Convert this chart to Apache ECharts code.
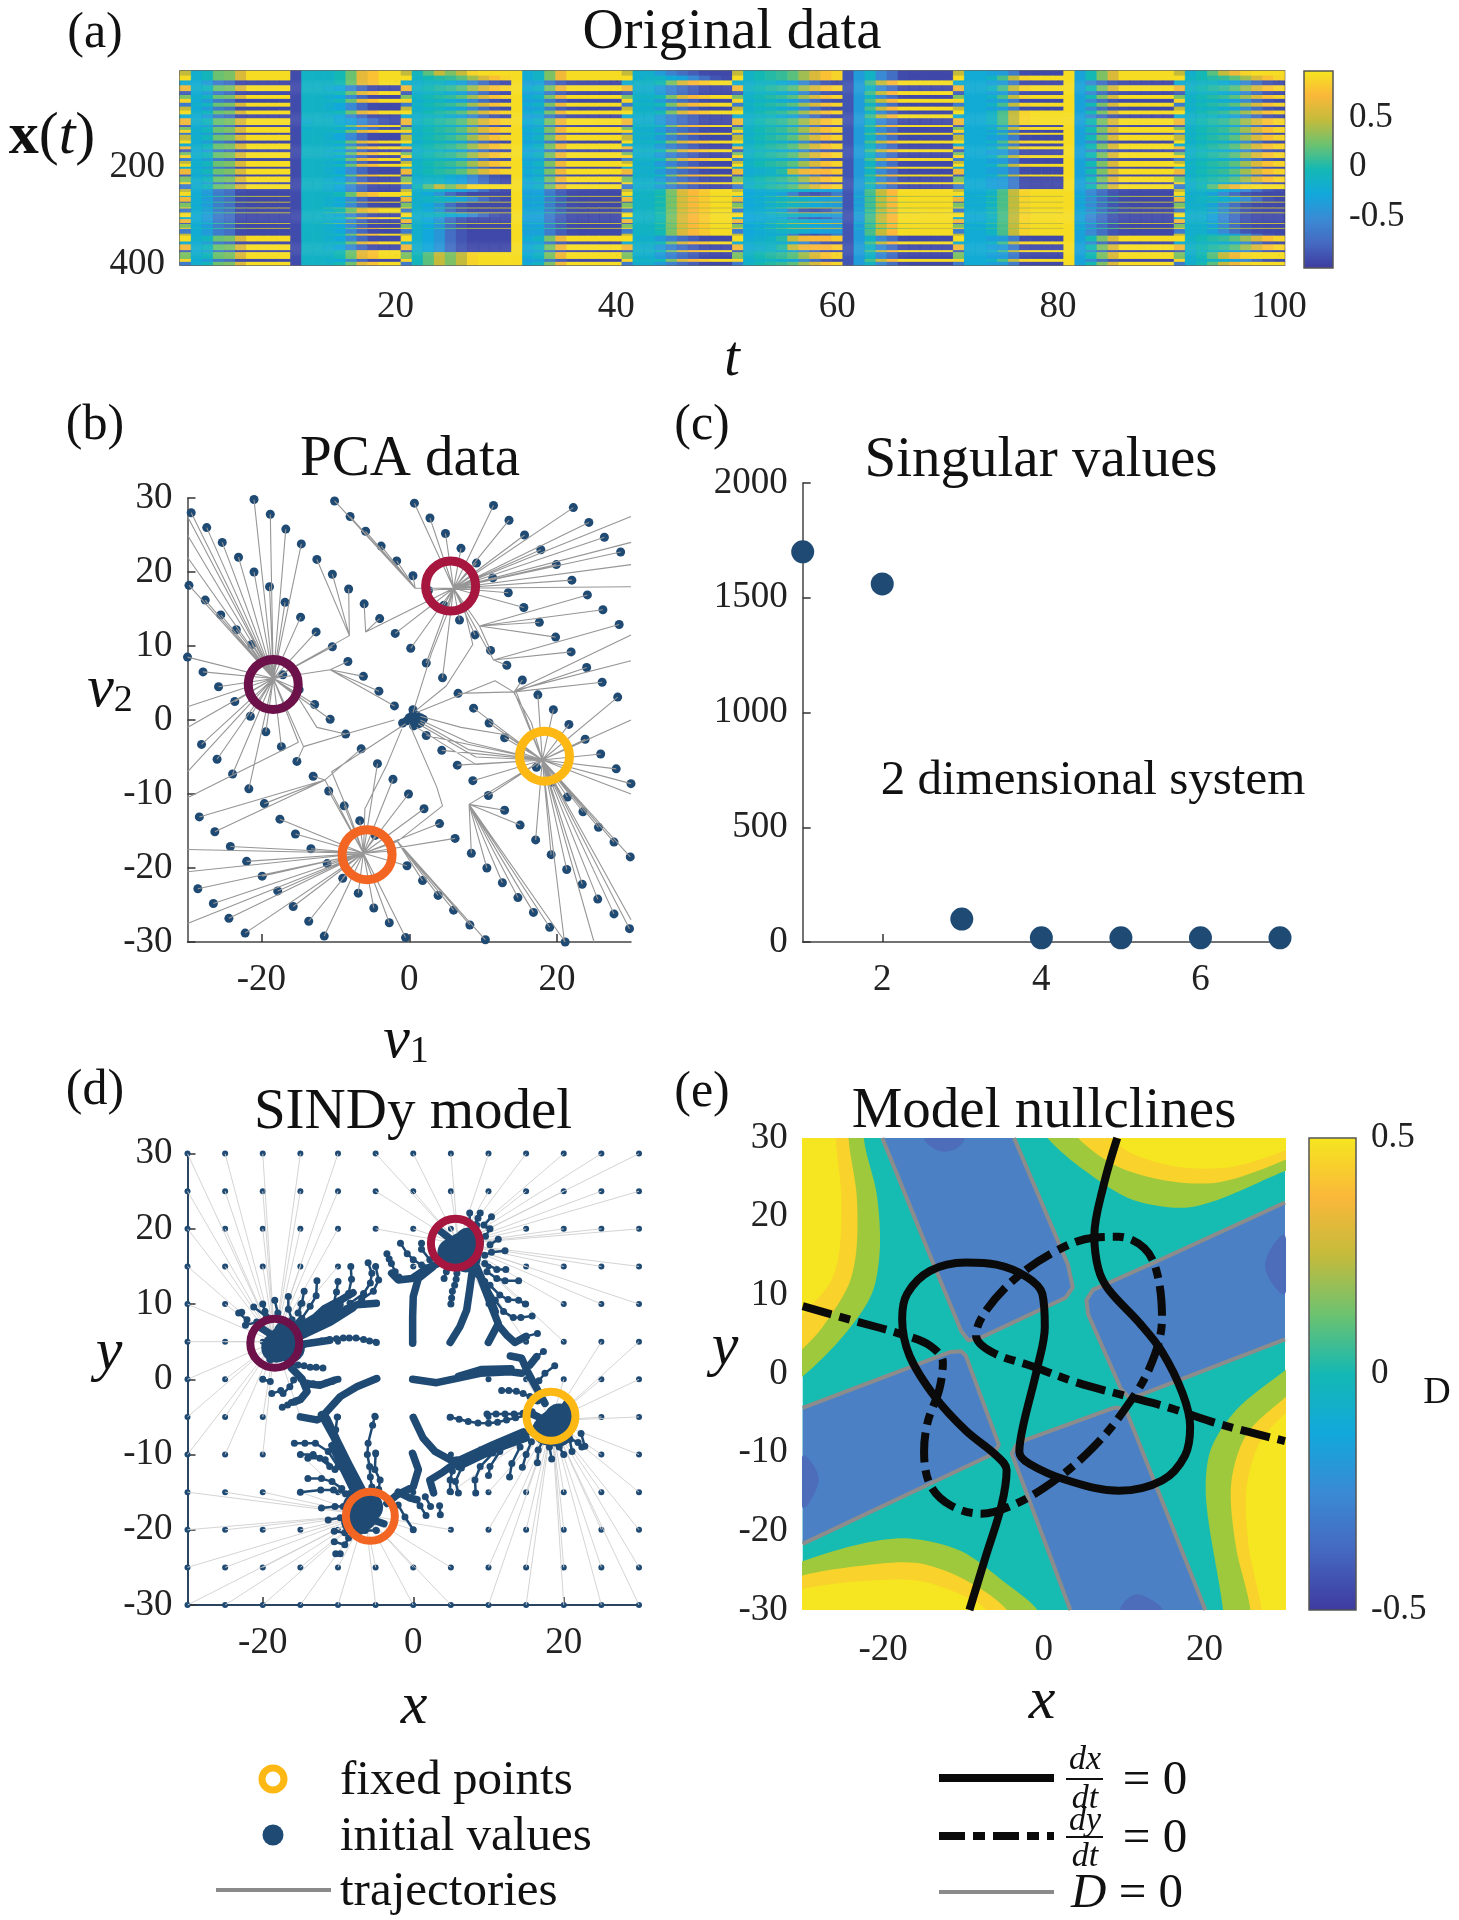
<!DOCTYPE html>
<html><head><meta charset="utf-8">
<style>html,body{margin:0;padding:0;background:#fff}#c{width:1459px;height:1920px}</style>
<script src="https://cdn.jsdelivr.net/npm/echarts@6/dist/echarts.min.js"></script>
</head><body><div id="c"></div>
<script>
// ---------- panel (a) ----------
const parula = ['#3e3a9e','#4568c0','#3a8ad4','#12a8dc','#14b8b4','#6cc270','#c4bb3c','#fbb83a','#f5e61f'];
const heatBands = [
[5,'YYYYNyNNYY'],[5,'YYyYnyNYYy'],[5,'NYnNYnYNNn'],[6,'YNyYNyNYYy'],[4,'NYnNNnYNNn'],[4,'YNyYYyNYYy'],[4,'NYnNNnYNNn'],[4,'YNyYYyNYYy'],
[4,'NNnNNnYNNn'],[4,'YYyYYyNYYy'],[4,'NNnNNnYYNn'],[7,'YnyYNyNYYy'],[2,'NYnNYnYNNn'],[3,'YnyYNyNYYy'],[3,'YYyYNyNNYy'],[2,'NNnNYnYYNn'],
[6,'YNyYNyNNYy'],[3,'NYnNYnYYNn'],[3,'YNyYNyNNYy'],[3,'YYyYNyNYYy'],[3,'NNnNYnYNNn'],[3,'YYyYNyNNYy'],[3,'YNyYNyNYYy'],[3,'NYnNYnYNNn'],
[3,'YNyYNyNNYy'],[3,'YYyYNyNYYy'],[2,'NNnNYnYNNn'],[6,'YNyYNYNNYy'],[2,'NYnNYnYYNn'],[6,'YNnYNyNNYy'],[2,'NYnNYnYNNn'],[5,'YNYYNyNNYY'],
[3,'NNnNYcYYNn'],[4,'NYNNYNYYNN'],[1,'tYtttttttt'],[5,'NNnNYcYYNn'],[1,'tYtttttttt'],[5,'NNNNYcYYNN'],[1,'tttttttttt'],[4,'NYNNYNYYNN'],
[1,'tttttttttt'],[4,'NNnNYcYYNN'],[2,'NYNNYNYYNN'],[4,'NNNNYcYYNN'],[1,'tttttttttt'],[4,'NNNNYcYYNN'],[1,'tYtttttttt'],[5,'NNNNYcYYNN'],
[2,'NYNNYNYYNn'],[6,'YNNYNYNNYy'],[3,'NYNNYnYYNn'],[6,'YNNYNYNNYy'],[2,'NYNNYnYYNn'],[7,'YYYYNyNNYY'],[3,'NNYNYnYYNn'],[3,'YYYYNyNNYY']];
const rampY = [
[-.15,-.05,.25,.3,.6,.95,.95,.95,.95],[-.1,-.1,-.1,0,.25,.65,.8,.95,.95],[-.05,.2,.5,.3,.5,.9,.95,.95,.95],
[-.2,-.1,.3,.7,.95,.95,.95,.95,.95],[-.1,-.1,0,.3,.6,.75,.85,.95,.95],[-.2,-.15,-.1,.05,.5,.7,.75,.75,.85],
[-.35,.15,.5,.75,.95,.95,.95,.95,.95],[-.2,-.2,-.1,.15,.5,.9,.95,.95,.95],[-.3,0,.3,.6,.95,.95,.95,.95,.95],[-.15,0,.2,.5,.7,.9,.95,.95,.95]];
const rampN = [
[-.2,-.35,-.6,-.7,-.9,-.92,-.92,-.92,-.92],[-.1,-.1,-.15,-.25,-.5,-.75,-.9,-.92,-.92],[-.15,-.25,-.4,-.7,-.85,-.92,-.92,-.92,-.92],
[-.3,-.3,-.6,-.8,-.9,-.92,-.92,-.92,-.92],[-.15,-.15,-.35,-.55,-.7,-.8,-.9,-.92,-.92],[-.25,-.2,-.2,-.3,-.55,-.8,-.85,-.8,-.6],
[-.35,-.1,-.5,-.7,-.9,-.92,-.92,-.92,-.92],[-.2,-.2,-.3,-.35,-.6,-.9,-.92,-.92,-.92],[-.3,-.5,-.7,-.85,-.9,-.92,-.92,-.92,-.92],[-.15,-.15,-.3,-.5,-.7,-.85,-.9,-.92,-.92]];
const rampWeak = {
 y:[-.1,0,.05,.1,.2,.4,.6,.8,.9], n:[-.15,-.1,-.1,-.2,-.3,-.5,-.7,-.85,-.9],
 c:[-.25,-.2,-.15,-.1,-.1,-.15,-.25,-.3,-.35], t:[-.1,-.05,.1,.2,.4,.45,.5,.5,.5]};
const firstCols = ['m',-.9,'m',.95,'m','m',-.85,'m',.95,'m'];
const mixVals = [.5,.95,-.2,.7,-.8,.3,.9,-.6];
const heatTicksX = [20,40,60,80,100];
const heatTicksY = [200,400];

// ---------- panels (b),(d) fixed points ----------
const fpNames = ['P','R','Y','O'];
const fpColors = ['#6c1149','#a6163e','#fdb813','#f26522'];
const fpCenters = [[-18.4,4.8],[5.6,18.1],[18.3,-4.9],[-5.7,-18.2]];
const bEnds = {P:[-18.4,5.6],R:[6,17.8],Y:[18,-5.4],O:[-6.2,-18]};
const bVia = {a:['P',-8.1,11.4],b:['P',-10.7,6.8],c:['R',-5.9,11.9],d:['R',11.4,8.1],e:['R',9.5,12.7],f:['R',.8,17.8],
 g:['Y',14.2,3.8],h:['Y',8.1,-11.4],i:['O',-1.6,-16.4],j:['O',-11.4,-8.1],k:['P',-14.3,-3.6]};
const bLines = [
 {t:'PPPPPPPPPPbbbbCYYYYYhhYYYYYYY', p:[-29.5,28,-27.4,26,-25.3,24,-23.1,22,-21,20,-18.9,18,-16.8,15.9,-14.7,13.9,-12.6,11.9,-10.4,9.9,-8.3,7.9,-6.2,5.9,-4.1,3.9,-2,1.9,.2,-.1,2.3,-2.1,4.4,-4.1,6.5,-6.1,8.6,-8.2,10.7,-10.2,12.9,-12.2,15,-14.2,17.1,-16.2,19.2,-18.2,21.3,-20.2,23.4,-22.2,25.5,-24.2,27.7,-26.2,29.8,-28.2]},
 {t:'PPPPaaaccRRRRgYYYYYYYYYYY', p:[-21,29.8,-18.8,27.8,-16.7,25.8,-14.6,23.8,-12.5,21.7,-10.4,19.7,-8.2,17.7,-6.1,15.7,-4,13.7,-1.9,11.7,.2,9.7,2.3,7.7,4.5,5.7,6.6,3.6,8.7,1.6,10.8,-.4,12.9,-2.4,15,-4.4,17.2,-6.4,19.3,-8.4,21.4,-10.4,23.5,-12.4,25.6,-14.5,27.7,-16.5,29.9,-18.5]},
 {t:'ffffffRRRRedgYYYYYYY', p:[-10.1,29.6,-8,27.5,-5.9,25.5,-3.8,23.5,-1.7,21.5,.5,19.5,2.6,17.5,4.7,15.5,6.8,13.5,8.9,11.5,11,9.4,13.2,7.4,15.3,5.4,17.4,3.4,19.5,1.4,21.6,-.6,23.8,-2.6,25.9,-4.6,28,-6.6,30,-8.6]},
 {t:'RRRRRRRReedggY', p:[.7,29.3,2.8,27.3,4.9,25.2,7,23.2,9.1,21.2,11.3,19.2,13.4,17.2,15.5,15.2,17.6,13.2,19.8,11.2,21.9,9.2,24,7.1,26.1,5.1,28.2,3.1]},
 {t:'RRRRRReed', p:[11.4,29,13.5,27,15.6,25,17.8,23,19.9,21,22,18.9,24.1,16.9,26.2,14.9,28.4,12.9]},
 {t:'RRRR', p:[22.2,28.7,24.3,26.7,26.4,24.7,28.6,22.7]},
 {t:'PPPPPPPPPPkjOOOOOOhhhhhhh', p:[-29.8,18.2,-27.6,16.2,-25.5,14.2,-23.4,12.2,-21.3,10.2,-19.2,8.1,-17.1,6.1,-14.9,4.1,-12.8,2.1,-10.7,.1,-8.6,-1.9,-6.5,-3.9,-4.3,-5.9,-2.2,-8,-.1,-10,2,-12,4.1,-14,6.2,-16,8.4,-18,10.5,-20,12.6,-22,14.7,-24,16.8,-26,19,-28,21.1,-30]},
 {t:'PPPPPPPkjOOOOOOiiiii', p:[-30,8.5,-27.9,6.5,-25.8,4.5,-23.6,2.5,-21.5,.5,-19.4,-1.6,-17.3,-3.6,-15.2,-5.6,-13,-7.6,-10.9,-9.6,-8.8,-11.6,-6.7,-13.6,-4.6,-15.6,-2.4,-17.7,-.3,-19.7,1.8,-21.7,3.9,-23.7,6,-25.7,8.2,-27.7,10.3,-29.7]},
 {t:'PPPPjOOOOOOOOO', p:[-28.1,-3.3,-26,-5.3,-23.9,-7.3,-21.7,-9.3,-19.6,-11.3,-17.5,-13.4,-15.4,-15.4,-13.3,-17.4,-11.1,-19.4,-9,-21.4,-6.9,-23.4,-4.8,-25.4,-2.7,-27.4,-.5,-29.4]},
 {t:'jjOOOOOOO', p:[-28.4,-13.1,-26.3,-15.1,-24.2,-17.1,-22,-19.1,-19.9,-21.1,-17.8,-23.1,-15.7,-25.2,-13.6,-27.2,-11.5,-29.2]},
 {t:'OOOO', p:[-28.6,-22.8,-26.5,-24.8,-24.4,-26.8,-22.2,-28.8]}
];
const bCenterDots = [.5,1.4,.3,.2,1,.6,.7,.1,1.5,.3,1.2,-.5,-.9,-.4,-.3,-.1,0,.3,.6,-.8,1,-.3,1.9,.1,.4,.6,1.5,-.4];
const bExtraLines = [
 [-30,27.5,-18.4,5.6],[-30,25,-18.4,5.6],[-30,22,-18.4,5.6],[-30,1.8,-18.4,5.6],[-30,-1,-18.4,5.6],[-30,-7,-18.4,5.6],[-30,-10.5,-15,-3,-18.4,5.6],
 [-30,-17.5,-6.2,-18],[-30,-20.5,-6.2,-18],[-30,-27.5,-6.2,-18],
 [30,27.5,6,17.8],[30,24,6,17.8],[30,21,6,17.8],[30,18,6,17.8],[30,11.5,14.4,4,18,-5.4],[30,8,14.4,4,18,-5.4],[30,0,18,-5.4],[30,-10,18,-5.4],
 [30,-27,18,-5.4],[25,-30,18,-5.4],[21,-30,18,-5.4],
 [1.5,0,8,-3,18,-5.4],[1.5,-.3,8,-4,18,-5.4],[1.2,-.5,9,-5,18,-5.4],[1,-1,9,-6,18,-5.4],[1.5,.5,7,-1,13,-2,18,-5.4],
 [1,1,11.6,5.3,14.1,3.8,16.5,-.3,18,-5.4],[.8,1.2,5,4.6,8.6,10.2,7.4,15.2,6,17.8],[.5,1,3,9,5,14,6,17.8],
 [-2,0,-8.6,-1.9,-12.5,-1,-15,3,-18.4,5.6],[-.5,-.5,-10.5,-7,-8,-13,-6.2,-18],[0,-.5,3.7,-9,4.5,-11.6,-1.6,-16.4,-6.2,-18],[-1,-1.2,-3,-6,-6,-12,-6.2,-18]
];

// ---------- panel (c) ----------
const svIndex = [1,2,3,4,5,6,7];
const svValues = [1700,1560,100,18,18,18,18];

// ---------- panel (d) ----------
const gridX = [-30,-25,-20,-15,-10,-5,0,5,10,15,20,25,30];
const gridY = [30,25,20,15,10,5,0,-5,-10,-15,-20,-25,-30];
const dTargets = [
 'PPPPPRRRRRRRR','PPPPPRRRRRRRR','PPPPPRRRRRRRR','PPPPP.RRRRRRR','PPPP....RRRRR','PPPP.....RRYY','PPPP.....YYYY',
 'PPPP.....YYYY','PPPO.....YYYY','OOOOOO.YYYYYY','OOOOOOOOYYYYY','OOOOOOOOYYYYY','OOOOOOOOYYYYY'];
const dEnds = {P:[-18.4,5],R:[6,18],Y:[18.4,-5.5],O:[-6.4,-18]};
const dBlobs = [[-17.4,5,-16.6,6,-18.2,4.2,-16.4,4.2],[6.4,17.5,7.4,18.2,5.2,16.8,7,16.2],[18.6,-6,19.4,-5.2,17.8,-6.8,19.2,-7],[-6.8,-18.2,-6,-17,-7.6,-18.8,-7.4,-17]];
const dThick = [
 // purple side
 [-14.8,6.1,-11.1,8.3,-7.5,9.9,-4.9,10.1],[-14.8,6.6,-11.8,9.4,-9.5,10.6,-8,11.5],[-14.8,5.8,-11,7.6,-8,9.5],[-15.2,4.6,-11.1,5.2],[-14.8,7.2,-12,8.9,-10,9.6],
 [-16.2,1.5,-14.8,.1,-14.1,-1.6,-15,-2.7,-15.8,-3],[-14.1,-.6,-12.4,-.8,-10.4,-.1],
 [-17.4,5,-15,7.8],[-17.4,5,-20.2,6.8],[-17.4,5,-16.2,2],[-17.4,5,-19,2.6],
 // red side
 [-.08,4.8,-.08,8.3,0,11,.67,13.4,2.67,15],[-2.87,14.1,-2,13.2,-.2,13.4,1.8,14.75,3.8,15.6],
 [9.98,4.9,11.3,7.4,10.4,9.65,8.9,13.6,8,14.75],[10.9,9,9.7,12,8.4,15],[15,5.7,13.5,4.9,12.4,5.9,11.3,7.2],[4.9,4.9,6.2,7,7.1,9.2,7.5,11.9,7.8,14.1],
 [6.4,17.5,3.6,16],[6.4,17.5,8.4,20.5],[6.4,17.5,3.2,20],
 // yellow side
 [-.08,0,3.1,-.45,5.8,.13,8.9,.8,12.9,1,14.4,.8],[6,.4,9,1.3,13,1.4],[12.9,3.1,14.4,2.8,15.1,1.2,16,-.5,17.5,-3.2],[16.4,3,15.5,1.9],
 [0,-5.05,1.3,-7.8,2.9,-9.6,4.9,-10.7,6.2,-10.95],[2.7,-15.1,2.2,-13.4,4,-12.3,6.2,-10.7,10.6,-8.7,14.6,-7],[6,-11.6,10.6,-9.4,15,-7.8],[9,-9.4,12,-8.8,15.6,-6.8],
 [18.6,-6,21,-4],[18.6,-6,20.6,-2.9],[18.6,-6,15.4,-4.4],
 // orange side
 [-12.2,-4.7,-10.6,-7.6,-9.3,-10.3,-8,-13,-6.85,-14.95],[-11.5,-5.2,-9.9,-8.6,-8.4,-11.6,-6.6,-15],[-10.8,-8.8,-9.5,-11.5,-7.8,-15],[-15,-5,-12.8,-5.4,-12,-5],
 [-4.85,.1,-7.5,-1,-9.7,-2.3,-11.7,-4.5],[-.1,-9.84,.68,-12,0,-14.3,-2.2,-15.4,-3.5,-16.5],[-2,-15,-.4,-15.8,.5,-16],
 [-6.8,-18.2,-3.9,-19.2],[-6.8,-18.2,-8.4,-15.2]
];
const dArcs = [
 // purple side
 [-5,15,-4.6,13.2,-5.3,11.7,-6.85,10.6,-8.85,9.4],[-6,15.5,-5.5,14.1,-5.7,12.8,-6.6,11.4,-8.4,10.1],[-8.3,15,-8.2,13.3,-8.6,11.4,-9.7,9.9,-11.5,8.6],
 [-10,13,-10.2,11.6,-10.6,10,-12,8.3],[-12.8,13.1,-12.9,11.1,-13.7,9.7,-14.8,8.1],[-14.5,11.7,-14.8,10.1,-15.3,8.8],[-16.6,11,-16.6,9.3,-16.1,7.9],[-18.4,10.5,-18,8.8],
 [-20,10,-19.7,9],[-21.2,9.6,-19.5,8.3],[-22.8,8.9,-23.2,8.8,-22.1,7.9,-22.3,7.2,-20.8,7.6],
 [-4.9,4.9,-5.8,5.1,-6.6,5.3,-7.6,5.5,-8.5,5.5,-9.3,5.5,-10.2,5.4,-11.1,5.3,-12.2,5.1,-13.4,4.9,-14.6,4.6],[-12,1.5,-12.9,1.6,-13.7,1.6,-14.5,1.8,-15.3,1.9],
 [-10,0,-10.8,-.3,-11.6,-.5,-12.4,-.7,-13.3,-.6,-14.1,-.5],[-15.9,-.1,-16.4,-1,-17.3,-1.9],[-17.4,-3.7,-16.7,-3.4,-16.2,-3.1,-15.6,-2.9],[-20,0,-19,-.3],[-18.8,-1.9,-17.6,-1.5],
 // red side
 [-3.5,16.7,-3.2,16,-2.9,15.4,-2.4,14.3,-1.9,13.6],[-1.7,18.1,-.8,16.7,0,15.9,1.1,15.2,2.4,15],[1.1,18.1,1.1,17.3,2.2,15.9],
 [5,10,5.1,10.8,5.2,11.7,5.5,12.5,5.7,13.3,5.8,14.1],[4.1,13.4,4.4,14.3],
 [15.8,8.4,14.3,8.2,13.3,8.2,12,9,10.9,10.5,9.5,13],[14.9,10,14,10.5,12.6,10.6,11.5,11.2,10.2,12.5],[14,13.1,12.2,13.1,11.1,13.4,9.8,14.3],
 [12.3,14.6,11.1,14.6,9.5,15.4],[12.2,17.1,10.4,16.9,9.5,16.5],[11.3,18.6,10.2,17.9],[10.2,20,9.6,19],[10.4,21.6,9.4,20.5],[8.9,22.1,8.6,21.4,8.2,20.5],[7.5,22.1,7.5,20.8],[16.5,6.1,15,5.7],
 // yellow side
 [17.3,3.7,16.4,3],[18.8,1.8,17.5,.8,16.7,-.2],[11.75,-1.5,12.7,-1.5,13.7,-1.6,14.6,-1.9,15.5,-2.3,16.5,-2.9],
 [4.9,-5.05,6.1,-5.3,7.3,-5.6,8.6,-5.8,10,-5.85,11.2,-5.7,12.4,-5.4,13.6,-5.1,15,-4.8,15.9,-4.7],[9.8,-4.6,11,-4.6,12.2,-4.6,13.4,-4.6,14.6,-4.5,15.8,-4.3],
 [4.9,-14.9,4.9,-13.4,5.2,-12.2,5.8,-10.7],[6,-15.1,5.6,-13.6,6.4,-11.8,7.2,-10.7],[8.3,-15.1,8.2,-13.4,8.9,-11.6,10.6,-9.8],[10,-12.8,10.2,-11.6,11.5,-9.6,13.3,-8.3],
 [12.8,-13,13.1,-11.2,14.2,-9],[14.5,-11.7,15,-10,15.7,-8.3],[16.5,-11.1,16.6,-9.4,17.3,-8],[18.4,-10.6,18.1,-9],[20,-10,19.4,-9],[21.1,-9.6,20.8,-8],[22.4,-9,21.9,-8.4,20.8,-7.9],[22.8,-8.9,22.3,-7.2],
 [1.6,-15.6,2.3,-16.9],[3.5,-16.8,3.6,-18],
 // orange side
 [-15.8,-8.5,-14.4,-8.5,-13,-8.5,-11.3,-9.6,-10,-11.6,-8.4,-13.4],[-15,-10,-13.3,-10,-11.7,-10.7,-10.4,-12],[-14,-10.5,-12.4,-10.5,-11.1,-11.6],
 [-14,-13.2,-12.2,-13.2,-10.8,-13.6,-9.5,-14.5],[-15,-15,-12.3,-14.7,-10.6,-14.7,-9,-15.2],[-12.2,-17.1,-10.4,-16.9,-9.3,-16.9],[-11.3,-18.7,-9.7,-18.4],
 [-10.5,-20.2,-9.1,-20.4],[-10.5,-21.6,-9.1,-22,-8.6,-21.1],[-10.3,-23.2,-9.7,-23.2],[-6.4,-20.1,-4.9,-20.1],
 [-10.1,-5,-10.3,-6.7,-9.7,-9.4,-8.8,-11.5],[-5.1,-4.9,-5.4,-6.1,-6,-8.5,-6.1,-10,-5.8,-11.6,-5.7,-13,-5.5,-14.3],[-5,-9.8,-5.1,-12,-4.4,-13.4,-4.6,-14.6],
 [.3,-16,.9,-16.8,1.7,-18.1],[-2,-16.7,-1.1,-18.3,0,-20]
];

// ---------- panel (e) ----------
const eColors = {teal:'#16bcb2',green:'#9fc93c',gold:'#f9d22b',yellow:'#f5e621',blue:'#4b81c4',deep:'#4d6dba'};
const eCorners = [
 ['green',[-40,40,-22.4,40,-22.4,30,-20.8,22.9,-20.4,16,-21.4,10.2,-24.9,4.9,-30,-.3,-40,-8]],
 ['gold',[-40,40,-24.3,40,-24.3,30,-23.3,22.9,-23.3,16,-24.3,11.3,-27.5,6,-30,3.2,-40,-6]],
 ['yellow',[-40,40,-25.9,40,-25.9,30,-25.2,22.9,-25.4,16,-26.5,11.8,-30,7.6,-40,-2]],
 ['green',[-2,34,.44,30,4.9,26,11.2,22.1,18.8,21.3,30,25.8,40,30,40,40,0,40]],
 ['gold',[2,34,4.25,30,9.3,26.3,15.7,24.5,22,24.4,30,27.2,40,32,40,40,2,40]],
 ['yellow',[6,34,8.4,30,11.2,27.9,16.9,26.3,23.3,26.3,30,28.4,40,33,40,40,6,40]],
 ['green',[40,8,30,.45,23.9,-4.6,20.7,-9.8,20.2,-16.2,22.3,-30,23,-40,40,-40]],
 ['gold',[40,6,30,-3,25.2,-7.7,23.3,-14,23.9,-22,25.7,-30,26,-40,40,-40]],
 ['yellow',[40,3,30,-5.1,26.8,-8.8,25.2,-14.6,25.5,-22,27.1,-30,28,-40,40,-40]],
 ['green',[-40,-28,-30,-23.8,-22.4,-21.5,-16.7,-20.9,-10.3,-22.5,-4.6,-26.7,-.8,-30,2,-36,2,-40,-40,-40]],
 ['gold',[-40,-29,-30,-25.6,-23,-24.4,-16,-24,-10.3,-25.9,-4.6,-30,-2,-36,-2,-40,-40,-40]],
 ['yellow',[-40,-30,-30,-27.3,-22.4,-26.3,-15.4,-26.3,-9.7,-28.3,-7.2,-30,-5,-36,-5,-40,-40,-40]]
];
const eBlueTop = [-20.1,30,-13.5,13.4,-10.3,5.5,-9.4,4.3,-8.1,4.5,2.7,9.7,3.6,11,3,13.9,-3.7,30];
const eBlueRight = [30,21.8,13.8,14.2,6.1,10.7,5.3,9.4,5.5,7.6,9.6,-1.9,10.6,-3,12.2,-2.6,30,4.4];
const eBlueBottom = [20.1,-30,10.3,-4.8,9.3,-4.3,8.7,-4.3,-2.1,-8.3,-3.4,-9,-4,-10.1,3.3,-30];
const eBlueLeft = [-30,-4.3,-11.6,2.8,-10.3,2.9,-9.7,2.3,-5.6,-9,-6.2,-10.1,-30,-21.6];
const eDeep = [[-14.8,30,-13.2,28.4,-11,28.6,-10,30],[30,17.6,28,15.5,27.7,12.8,30,10.2],[-30,-10.4,-28,-13.3,-30,-17],[9.6,-30,11.5,-28,14.7,-30]];
const dxNull = [9.13,30,7.42,23.93,6.28,17.6,6.78,13.38,8.05,10.74,11.86,6.52,14.71,2.82,17.25,-2.45,18.2,-6.68,17.56,-10.37,14.71,-13.54,9.32,-14.85,2.98,-13.54,-1.78,-11.42,-3.05,-9.84,-2.6,-6.68,-.83,.71,.12,6,-.19,10.2,-2.1,12.32,-5.9,13.9,-9.7,14.17,-14.15,13.11,-17,10.21,-17.63,7.05,-16.7,2.3,-13.5,-2.98,-9.7,-7.2,-5.9,-10.37,-4.63,-12.2,-5.27,-16.7,-7.17,-23,-9.26,-30];
const dyNull = [-30,8.63,-23.66,6.78,-17.3,4.93,-14.15,3.6,-12.56,1.5,-13,-1.93,-14.46,-6.15,-14.9,-9.84,-14.15,-14.06,-11.6,-16.7,-7.8,-17.76,-3.36,-16.44,1.71,-13.27,6.15,-9.31,9.64,-5.09,13.13,.71,14.7,7.05,14.08,12.85,12.5,16,9.32,17.44,6.15,17.33,1.71,15.75,-3.36,12.32,-7.17,8.1,-8.44,4.93,-6.53,2.82,-1.46,.98,4.25,-1.13,9.95,-2.72,15.66,-4.3,22,-6.41,30,-8.52];

// ---------- build ----------
const FONT = '"Liberation Serif"';
const NAVY = '#1f4a73';
const GRAY = '#8a8a8a';
function pairs(a){const o=[];for(let i=0;i+1<a.length;i+=2)o.push([a[i],a[i+1]]);return o;}
function gapped(list){const o=[];list.forEach(p=>{pairs(p).forEach(q=>o.push(q));o.push(['-','-']);});return o;}

const colLabels=[];for(let c=1;c<=100;c++)colLabels.push(String(c));
const rowLabels=[];for(let r=2;r<=400;r+=2)rowLabels.push(String(r));
const heat=[];let rowPos=0;
heatBands.forEach((b,bi)=>{
 for(let h=0;h<b[0];h++){
  for(let s=0;s<10;s++){
   const k=b[1][s];
   const ramp=k==='Y'?rampY[s]:k==='N'?rampN[s]:rampWeak[k];
   const first=firstCols[s]==='m'?mixVals[bi%mixVals.length]:firstCols[s];
   heat.push([s*10,rowPos,first]);
   for(let c=0;c<9;c++)heat.push([s*10+c+1,rowPos,ramp[c]]);
  }
  rowPos++;
 }
});

const bDots=[];const bTraj=[];
bLines.forEach(l=>{pairs(l.p).forEach((pt,i)=>{
 bDots.push(pt);const t=l.t[i];
 if(t==='C')return;
 if(bEnds[t]){bTraj.push([pt[0],pt[1],bEnds[t][0],bEnds[t][1]]);}
 else{const v=bVia[t];bTraj.push([pt[0],pt[1],v[1],v[2],bEnds[v[0]][0],bEnds[v[0]][1]]);}
});});
pairs(bCenterDots).forEach(p=>bDots.push(p));
bExtraLines.forEach(l=>bTraj.push(l));

const dDots=[];const dTraj=[];
gridY.forEach((y,r)=>gridX.forEach((x,c)=>{
 dDots.push([x,y]);const t=dTargets[r][c];
 if(dEnds[t])dTraj.push([x,y,dEnds[t][0],dEnds[t][1]]);
}));
const dBlobPts=[];dBlobs.forEach(b=>pairs(b).forEach(p=>dBlobPts.push(p)));

const ePolys=[];
ePolys.push(['teal',[-30,30,30,30,30,-30,-30,-30],0]);
eCorners.forEach(c=>ePolys.push([c[0],c[1],.3]));
[eBlueTop,eBlueRight,eBlueBottom,eBlueLeft].forEach(p=>ePolys.push(['blue',p,0]));
eDeep.forEach(p=>ePolys.push(['deep',p,.4]));

function polySeries(i,j){return {type:'custom',xAxisIndex:i,yAxisIndex:j,coordinateSystem:'cartesian2d',clip:true,silent:true,
 data:ePolys.map((p,k)=>[k]),encode:{x:[],y:[]},
 renderItem:(params,api)=>{const p=ePolys[api.value(0)];
  return {type:'polygon',shape:{points:pairs(p[1]).map(q=>api.coord(q)),smooth:p[2]},style:{fill:eColors[p[0]]}};}};}
function barSeries(i,lo,hi){return {type:'custom',xAxisIndex:i,yAxisIndex:i,clip:false,silent:true,data:[[0,lo,hi]],encode:{x:[],y:[]},
 renderItem:(params,api)=>{const a=api.coord([0,hi]),b=api.coord([1,lo]);
  return {type:'rect',shape:{x:a[0],y:a[1],width:b[0]-a[0],height:b[1]-a[1]},
   style:{fill:new echarts.graphic.LinearGradient(0,0,0,1,parula.slice().reverse().map((c,k)=>({offset:k/8,color:c}))),stroke:'#555',lineWidth:1.5}};}};}

const plain=v=>String(v);
const label=(m,extra)=>Object.assign({fontFamily:FONT,fontSize:37,color:'#222',margin:m,formatter:plain},extra||{});
const line=(c,w)=>({show:true,onZero:false,lineStyle:{color:c||'#444',width:w||1.5}});
const tick=(vals,c)=>({show:true,inside:true,length:8,customValues:vals,lineStyle:{color:c||'#333',width:1.5}});
function valX(g,min,max,vals,opt){return Object.assign({type:'value',gridIndex:g,min,max,splitLine:{show:false},
 axisLine:line(),axisTick:tick(vals),axisLabel:label(20,{customValues:vals})},opt||{});}
function valY(g,min,max,vals,opt){return Object.assign({type:'value',gridIndex:g,min,max,splitLine:{show:false},
 axisLine:line(),axisTick:tick(vals),axisLabel:label(15,{customValues:vals})},opt||{});}
const t30=[-30,-20,-10,0,10,20,30];

const xAxes=[
 {type:'category',gridIndex:0,data:colLabels,position:'bottom',axisLine:{show:false},
  axisTick:{show:true,inside:true,length:11,alignWithLabel:true,interval:(i,v)=>heatTicksX.includes(+v),lineStyle:{color:'#111',width:2}},
  axisLabel:label(24,{formatter:null,interval:(i,v)=>heatTicksX.includes(+v)})},
 {type:'value',gridIndex:1,min:0,max:1,show:false},
 valX(2,-30,30,[-20,0,20]),
 valX(3,1,7,[2,4,6]),
 valX(4,-30,30,[-20,0,20],{axisLine:line('#2a4560',2)}),
 valX(5,-30,30,[-20,0,20],{axisLine:{show:false},axisTick:{show:false},axisLabel:label(22,{customValues:[-20,0,20]})}),
 {type:'value',gridIndex:6,min:0,max:1,show:false},
 {type:'category',gridIndex:0,data:colLabels,position:'top',axisLine:{show:false},
  axisTick:{show:true,inside:true,length:11,alignWithLabel:true,interval:(i,v)=>heatTicksX.includes(+v),lineStyle:{color:'#111',width:2}},axisLabel:{show:false}}
];
const yAxes=[
 {type:'category',gridIndex:0,data:rowLabels,inverse:true,position:'left',axisLine:{show:false},
  axisTick:{show:true,inside:true,length:11,alignWithLabel:true,interval:(i,v)=>+v===200,lineStyle:{color:'#111',width:2}},
  axisLabel:label(15,{formatter:null,interval:(i,v)=>heatTicksY.includes(+v)})},
 valY(1,-1.02,.975,[-.5,0,.5],{position:'right',axisLine:{show:false},axisTick:{show:false},axisLabel:label(16,{fontSize:35,customValues:[-.5,0,.5]})}),
 valY(2,-30,30,t30),
 valY(3,0,2000,[0,500,1000,1500,2000]),
 valY(4,-30,30,t30,{axisLine:line('#2a4560',2)}),
 valY(5,-30,30,t30,{axisLine:{show:false},axisTick:{show:false}}),
 valY(6,-.5,.5,[-.5,0,.5],{position:'right',axisLine:{show:false},axisTick:{show:false},axisLabel:label(15,{fontSize:35,customValues:[-.5,0,.5]})}),
 {type:'category',gridIndex:0,data:rowLabels,inverse:true,position:'right',axisLine:{show:false},
  axisTick:{show:true,inside:true,length:11,alignWithLabel:true,interval:(i,v)=>+v===200,lineStyle:{color:'#111',width:2}},axisLabel:{show:false}}
];

function grayLines(i,list,c,w){return {type:'line',xAxisIndex:i,yAxisIndex:i,data:gapped(list),showSymbol:false,silent:true,clip:true,
 lineStyle:{color:c,width:w},connectNulls:false};}
function dots(i,data,s){return {type:'scatter',xAxisIndex:i,yAxisIndex:i,data,symbolSize:s,clip:false,silent:true,itemStyle:{color:NAVY,opacity:1}};}
function rings(i,s,b){return {type:'scatter',xAxisIndex:i,yAxisIndex:i,clip:false,silent:true,symbolSize:s,z:6,
 data:fpCenters.map((c,k)=>({value:c,itemStyle:{color:'rgba(0,0,0,0)',borderColor:fpColors[k],borderWidth:b,opacity:1}}))};}
function navyLines(i,list,w,sym){return {type:'line',xAxisIndex:i,yAxisIndex:i,data:gapped(list),silent:true,clip:false,
 showSymbol:!!sym,showAllSymbol:true,symbol:'circle',symbolSize:sym||0,itemStyle:{color:NAVY},
 lineStyle:{color:NAVY,width:w,cap:'round',join:'round'},connectNulls:false,smooth:false,z:3};}

const series=[
 {type:'heatmap',xAxisIndex:0,yAxisIndex:0,data:heat,silent:true,progressive:0},
 barSeries(1,-1.02,.975),
 grayLines(2,bTraj,'#969696',1.1),
 dots(2,bDots,9),
 rings(2,50,9),
 dots(3,svIndex.map((x,i)=>[x,svValues[i]]),23),
 grayLines(4,dTraj,'#cfcfcf',.9),
 navyLines(4,dThick,7.5,0),
 navyLines(4,dArcs,2.5,7),
 dots(4,dDots,6),
 Object.assign(dots(4,dBlobPts,30),{z:3}),
 rings(4,49,8),
 polySeries(5,5),
 {type:'line',xAxisIndex:5,yAxisIndex:5,silent:true,showSymbol:false,clip:true,z:3,connectNulls:false,
  data:gapped([eBlueTop,eBlueRight,eBlueLeft,[8.7,-4.3,9.3,-4.3,10.3,-4.8,20.1,-30],[3.3,-30,-4,-10.1,-3.4,-9,-2.1,-8.3,8.7,-4.3]]),
  lineStyle:{color:'#8c8c8c',width:4}},
 {type:'line',xAxisIndex:5,yAxisIndex:5,silent:true,showSymbol:false,clip:true,z:4,smooth:.35,data:pairs(dyNull),
  lineStyle:{color:'#0a0a0a',width:8,type:[30,8,11,8]}},
 {type:'line',xAxisIndex:5,yAxisIndex:5,silent:true,showSymbol:false,clip:true,z:4,smooth:.35,data:pairs(dxNull),
  lineStyle:{color:'#0a0a0a',width:8}},
 barSeries(6,-.5,.5)
];

function T(x,y,text,size,o){return {type:'text',z:20,silent:true,style:Object.assign({x,y,text,fontFamily:FONT,fontSize:size,fill:'#111',align:'center',verticalAlign:'middle'},o||{})};}
const ital={fontStyle:'italic'};
const legendLine=(x1,x2,y,c,w,dash)=>({type:'line',z:20,silent:true,shape:{x1,y1:y,x2,y2:y},style:{stroke:c,lineWidth:w,lineDash:dash||null}});
const richV={i:{fontFamily:FONT,fontSize:60,fontStyle:'italic',fill:'#111'},s:{fontFamily:FONT,fontSize:38,fill:'#111',padding:[22,0,0,0]}};
const graphicEls=[
 T(95,34,'(a)',50),T(95,426,'(b)',50),T(702,426,'(c)',50),T(95,1091,'(d)',50),T(702,1093,'(e)',50),
 T(1093,781,'2 dimensional system',49),
 T(52,137,'{b|x}{n|(}{i|t}{n|)}',60,{rich:{b:{fontFamily:FONT,fontSize:60,fontWeight:'bold',fill:'#111'},n:{fontFamily:FONT,fontSize:60,fill:'#111'},i:{fontFamily:FONT,fontSize:60,fontStyle:'italic',fill:'#111'}}}),
 T(732,360,'t',56,ital),
 T(110,690,'{i|v}{s|2}',56,{rich:richV}),
 T(406,1041,'{i|v}{s|1}',56,{rich:richV}),
 T(109,1353,'y',60,ital),T(414,1707,'x',60,ital),T(725,1348,'y',60,ital),T(1042,1702,'x',60,ital),
 T(1437,1393,'D',38),
 {type:'circle',z:20,silent:true,shape:{cx:273,cy:1779,r:11},style:{fill:'none',stroke:'#fdb813',lineWidth:7}},
 {type:'circle',z:20,silent:true,shape:{cx:273,cy:1835,r:10.5},style:{fill:NAVY}},
 legendLine(216,331,1890,GRAY,4),
 T(340,1781,'fixed points',49,{align:'left'}),T(340,1837,'initial values',49,{align:'left'}),T(340,1892,'trajectories',49,{align:'left'}),
 legendLine(939,1054,1778,'#0a0a0a',8),legendLine(939,1054,1836,'#0a0a0a',8,[26,8,12,8]),legendLine(939,1054,1892,GRAY,4),
 T(1085,1760,'dx',34,ital),legendLine(1066,1103,1779,'#111',2),T(1085,1799,'dt',34,ital),T(1155,1781,'= 0',49),
 T(1085,1821,'dy',34,ital),legendLine(1066,1103,1837,'#111',2),T(1085,1857,'dt',34,ital),T(1155,1839,'= 0',49),
 T(1127,1894,'{i|D} = 0',49,{rich:{i:{fontFamily:FONT,fontSize:49,fontStyle:'italic',fill:'#111'}}})
];

const titles=[['Original data',732,5],['PCA data',410,432],['Singular values',1041,433],['SINDy model',413,1085],['Model nullclines',1044,1084]]
 .map(t=>({text:t[0],left:t[1],top:t[2],textAlign:'center',padding:0,textStyle:{fontFamily:FONT,fontSize:57,fontWeight:'normal',color:'#111'}}));

const chart=echarts.init(document.getElementById('c'),null,{renderer:'canvas'});
chart.setOption({
 animation:false,backgroundColor:'#fff',title:titles,
 grid:[
  {left:180,top:71,width:1104.5,height:194,show:true,borderColor:'#333',borderWidth:1.5,backgroundColor:'transparent'},
  {left:1304,top:71,width:29,height:197},
  {left:187.5,top:498,width:443.5,height:444},
  {left:802.7,top:483,width:477.3,height:459},
  {left:187.5,top:1153.6,width:451.5,height:451.4},
  {left:802.7,top:1138,width:482.3,height:472},
  {left:1309,top:1138,width:47,height:472}
 ],
 xAxis:xAxes,yAxis:yAxes,
 visualMap:{show:false,type:'continuous',min:-1,max:1,seriesIndex:0,dimension:2,inRange:{color:parula}},
 series,graphic:{elements:graphicEls}
});
</script></body></html>
